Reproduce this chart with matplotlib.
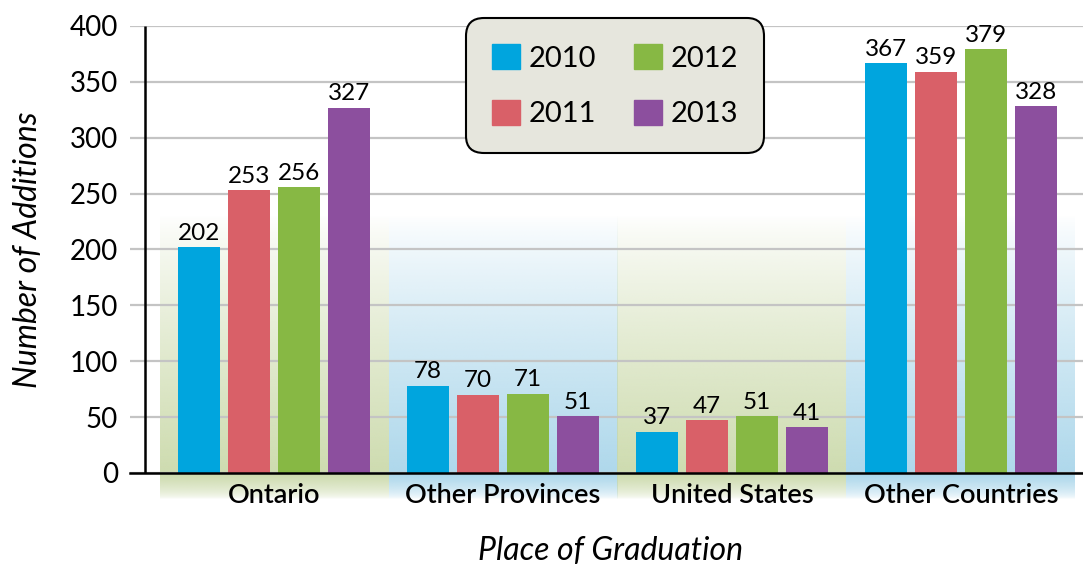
import numpy as np
import matplotlib.pyplot as plt
from matplotlib.patches import Patch

places = ['Ontario', 'Other Provinces', 'United States', 'Other Countries']
years = ['2010', '2011', '2012', '2013']
additions = {
    '2010': [202, 78, 37, 367],
    '2011': [253, 70, 47, 359],
    '2012': [256, 71, 51, 379],
    '2013': [327, 51, 41, 328],
}
yticks = [0, 50, 100, 150, 200, 250, 300, 350, 400]

bar_colors = ['#00a5de', '#d96068', '#87b844', '#8c4f9e']
panel_colors = ['#cad9a9', '#a8d5ea', '#cad9a9', '#a8d5ea']

plt.rcParams['font.family'] = ['Lato', 'DejaVu Sans']

fig = plt.figure(figsize=(10.83, 5.66), dpi=100)
ax = fig.add_axes([130/1083, 1-515/566, 1-130/1083, (515-26)/566])

x = np.arange(len(places))
step = 0.218
width = 0.183

# background panels with gradients
for i, c in enumerate(panel_colors):
    rgb = np.array(plt.matplotlib.colors.to_rgb(c))
    n = 100
    # upper part: fades towards the top
    a = np.linspace(0.0, 0.9, n)[:, None] ** 0.8
    img = np.ones((n, 1, 4))
    img[:, 0, :3] = rgb
    img[:, :, 3] = a
    ax.imshow(img, extent=(i-0.5, i+0.5, 0, 231), origin='upper', aspect='auto',
              interpolation='bilinear', zorder=0)
    # label band below the axis
    a2 = np.clip(np.linspace(1.0, -0.6, n), 0, 1)[:, None] ** 0.6
    img2 = np.ones((n, 1, 4))
    img2[:, 0, :3] = rgb
    img2[:, :, 3] = a2
    ax.imshow(img2, extent=(i-0.5, i+0.5, -37.6, 0), origin='upper', aspect='auto',
              interpolation='bilinear', zorder=0)
    ax.text(i, -20.5, places[i], ha='center', va='center', fontsize=19.5,
            fontweight='semibold', zorder=5)

for j, yr in enumerate(years):
    vals = additions[yr]
    pos = x + (j-1.5)*step
    ax.bar(pos, vals, width, color=bar_colors[j], label=yr, zorder=3)
    for p, v in zip(pos, vals):
        ax.text(p, v+3, str(v), ha='center', va='bottom', fontsize=17.5, zorder=4)

ax.set_xlim(-0.629, 3.533)
ax.set_ylim(-37.6, 400)
ax.set_yticks(yticks)
ax.set_xticks([])
ax.tick_params(axis='y', length=0, pad=8.5, labelsize=20)
ax.yaxis.grid(True, color='#c4c4c4', linewidth=1.6, zorder=1)
ax.set_axisbelow(False)
for s in ['top', 'right', 'left']:
    ax.spines[s].set_visible(False)
ax.spines['bottom'].set_position(('data', 0))
ax.spines['bottom'].set_linewidth(1.8)
ax.spines['bottom'].set_zorder(4)
ax.vlines(-0.629 + 15/229, 0, 400, color='black', linewidth=1.8, zorder=4)
ax.patch.set_alpha(0)

handles = [Patch(color=c) for c in bar_colors]
leg = ax.legend(handles, years, ncol=2, loc='upper left',
                bbox_to_anchor=(466/1083, 1-18/566), bbox_transform=fig.transFigure,
                borderaxespad=0,
                fontsize=21, handlelength=0.95, handleheight=0.95, handletextpad=0.3,
                columnspacing=1.3, labelspacing=0.95, borderpad=0.9,
                facecolor='#e6e6dd', edgecolor='black', framealpha=1)
leg.get_frame().set_linewidth(1.5)
leg.get_frame().set_boxstyle('round,pad=0,rounding_size=0.6')
leg.set_zorder(6)

fig.text(28/1083, 1-250/566, 'Number of Additions', rotation=90, ha='center',
         va='center', fontsize=23, style='italic')
fig.text(611/1083, 1-551/566, 'Place of Graduation', ha='center', va='center',
         fontsize=23, style='italic')

fig.savefig('out.png', dpi=100)
